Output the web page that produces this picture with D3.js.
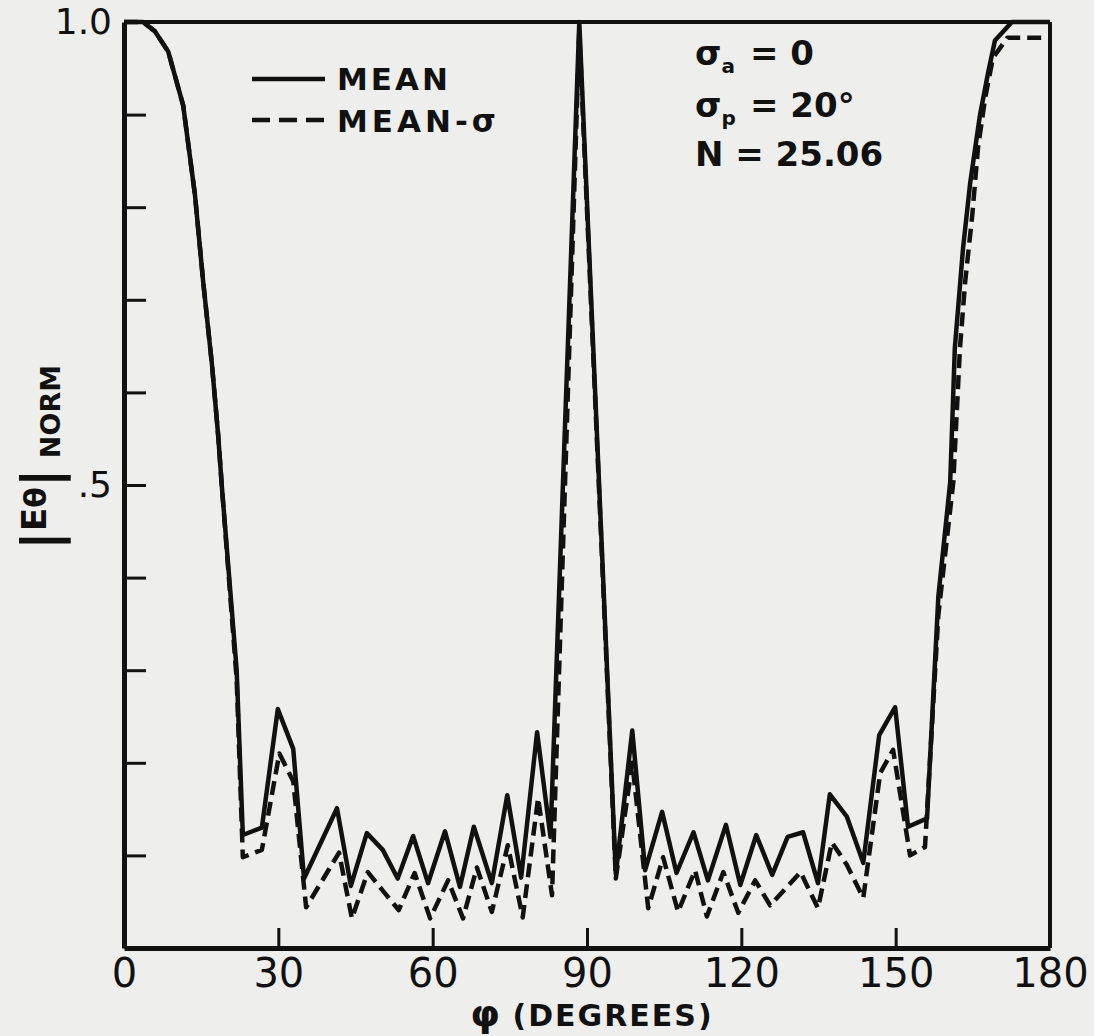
<!DOCTYPE html>
<html lang="en">
<head>
  <meta charset="UTF-8">
  <title>|E theta| norm vs phi</title>
  <script src="https://d3js.org/d3.v7.min.js"></script>
  <style>
    body { margin: 0; background: #eeeeec; }
    text { font-family: "DejaVu Sans", sans-serif; fill: #111; }
    .curve { fill: none; stroke: #111; stroke-width: 4.5px; stroke-linejoin: round; }
    .axis path, .axis line { stroke: #111; }
    .axis text { font-family: "DejaVu Sans", sans-serif; fill: #111; }
  </style>
</head>
<body>
  <div id="chart"></div>

  <script>
    var w = 1094;
    var h = 1036;

    // phi (degrees) and |E| for the mean curve
    var phiMean = [0, 3.7, 6.0, 8.6, 11.5, 13.8, 15.4, 17.1, 18.3, 19.0, 21.9, 23.1, 26.8, 29.9, 32.9, 35.0,
      41.4, 44.1, 47.2, 50.3, 53.2, 56.2, 59.1, 62.4, 65.3, 68.0, 71.5, 74.5, 77.2, 80.3, 82.9, 88.5,
      95.6, 98.8, 101.3, 104.6, 107.4, 110.7, 113.5, 117.0, 119.8, 122.9, 126.0, 129.0, 132.0, 134.9,
      137.2, 140.5, 143.7, 146.8, 149.9, 152.4, 156.1, 158.3, 160.6, 161.5, 163.1, 164.5, 166.4, 168.0,
      169.3, 172.6, 180];
    var mean = [1.0, 1.0, 0.99, 0.968, 0.91, 0.813, 0.719, 0.63, 0.554, 0.5, 0.30, 0.122, 0.13, 0.258, 0.215, 0.075,
      0.151, 0.067, 0.124, 0.106, 0.075, 0.121, 0.07, 0.126, 0.066, 0.131, 0.07, 0.165, 0.076, 0.233, 0.12, 1.0,
      0.08, 0.235, 0.084, 0.147, 0.081, 0.125, 0.073, 0.133, 0.068, 0.122, 0.079, 0.12, 0.125, 0.07,
      0.166, 0.142, 0.092, 0.23, 0.26, 0.131, 0.14, 0.38, 0.503, 0.648, 0.756, 0.827, 0.9, 0.946,
      0.98, 1.0, 1.0];

    // phi (degrees) and |E| for the mean - sigma curve
    var phiSigma = [0, 3.7, 6.0, 8.6, 11.5, 13.8, 15.4, 17.1, 18.3, 19.0, 21.9, 23.1, 26.8, 30.2, 32.9, 35.4,
      41.8, 44.3, 47.4, 50.3, 53.4, 56.5, 59.5, 63.0, 65.9, 68.6, 71.5, 74.6, 77.5, 80.5, 83.2, 88.5,
      95.6, 98.8, 101.9, 104.8, 107.7, 111.0, 113.3, 116.5, 119.4, 122.7, 125.6, 128.9, 131.5, 134.9,
      137.6, 140.5, 143.7, 147.0, 149.5, 152.8, 155.7, 158.3, 161.2, 162.5, 163.5, 164.9, 166.0, 167.4,
      168.9, 171.7, 180];
    var meanSigma = [1.0, 1.0, 0.99, 0.968, 0.91, 0.813, 0.719, 0.63, 0.554, 0.5, 0.29, 0.098, 0.106, 0.21, 0.18, 0.044,
      0.103, 0.032, 0.082, 0.062, 0.041, 0.081, 0.032, 0.073, 0.032, 0.087, 0.039, 0.111, 0.033, 0.162, 0.057, 0.99,
      0.075, 0.2, 0.043, 0.098, 0.039, 0.084, 0.034, 0.082, 0.038, 0.073, 0.046, 0.066, 0.082, 0.043,
      0.114, 0.09, 0.054, 0.189, 0.214, 0.1, 0.109, 0.36, 0.503, 0.648, 0.719, 0.792, 0.864, 0.918,
      0.961, 0.983, 0.983];

    var xTicks = [0, 30, 60, 90, 120, 150, 180];
    var yTicks = [0.1, 0.2, 0.3, 0.4, 0.5, 0.6, 0.7, 0.8, 0.9, 1.0];
    var yLabels = { "0.5": ".5", "1": "1.0" };

    var svg = d3.select("#chart").append("svg")
      .attr("width", w)
      .attr("height", h);

    svg.append("rect")
      .attr("width", w)
      .attr("height", h)
      .attr("fill", "#eeeeec");

    var x = d3.scaleLinear().domain([0, 180]).range([124, 1050]);
    var y = d3.scaleLinear().domain([0, 1]).range([948, 22]);

    // frame top and right
    svg.append("line")
      .attr("x1", x(0)).attr("x2", x(180))
      .attr("y1", y(1)).attr("y2", y(1))
      .attr("stroke", "#111").attr("stroke-width", 4);
    svg.append("line")
      .attr("x1", x(180)).attr("x2", x(180))
      .attr("y1", y(1)).attr("y2", y(0))
      .attr("stroke", "#111").attr("stroke-width", 4);

    // axes, ticks point inward
    var xAxis = d3.axisBottom(x)
      .tickValues(xTicks)
      .tickSizeInner(-20)
      .tickSizeOuter(0)
      .tickPadding(6)
      .tickFormat(d3.format("d"));

    var gx = svg.append("g")
      .attr("class", "axis")
      .attr("transform", "translate(0," + y(0) + ")")
      .call(xAxis);
    gx.select(".domain").attr("stroke-width", 5);
    gx.selectAll("line").attr("stroke-width", 3);
    gx.selectAll("text").attr("font-size", 40).attr("dy", "0.82em");

    var yAxis = d3.axisLeft(y)
      .tickValues(yTicks)
      .tickSizeInner(-22)
      .tickSizeOuter(0)
      .tickPadding(12)
      .tickFormat(function(d) { return yLabels[String(d)] || ""; });

    var gy = svg.append("g")
      .attr("class", "axis")
      .attr("transform", "translate(" + x(0) + ",0)")
      .call(yAxis);
    gy.select(".domain").attr("stroke-width", 5);
    gy.selectAll("line").attr("stroke-width", 3);
    gy.selectAll("text").attr("font-size", 36);

    // curves
    var line = d3.line()
      .x(function(d) { return x(d[0]); })
      .y(function(d) { return y(d[1]); });

    svg.append("path")
      .attr("class", "curve")
      .attr("d", line(d3.zip(phiSigma, meanSigma)))
      .attr("stroke-dasharray", "14,7");

    svg.append("path")
      .attr("class", "curve")
      .attr("d", line(d3.zip(phiMean, mean)));

    // legend
    var legend = svg.append("g").attr("transform", "translate(252,0)");
    legend.append("line")
      .attr("x1", 0).attr("x2", 73).attr("y1", 79).attr("y2", 79)
      .attr("stroke", "#111").attr("stroke-width", 4.5);
    legend.append("text")
      .attr("x", 85).attr("y", 90)
      .attr("font-size", 31).attr("font-weight", "bold")
      .attr("letter-spacing", 3)
      .text("MEAN");
    legend.append("line")
      .attr("x1", 0).attr("x2", 73).attr("y1", 120).attr("y2", 120)
      .attr("stroke", "#111").attr("stroke-width", 4.5)
      .attr("stroke-dasharray", "18,9");
    legend.append("text")
      .attr("x", 85).attr("y", 132)
      .attr("font-size", 31).attr("font-weight", "bold")
      .attr("letter-spacing", 4)
      .text("MEAN-σ");

    // parameters
    var params = svg.append("g").attr("font-size", 34).attr("font-weight", "bold");
    var p1 = params.append("text").attr("x", 695).attr("y", 65);
    p1.append("tspan").text("σ");
    p1.append("tspan").attr("font-size", 20).attr("dy", 8).text("a");
    p1.append("tspan").attr("x", 750).attr("dy", -8).text("= 0");

    var p2 = params.append("text").attr("x", 695).attr("y", 117);
    p2.append("tspan").text("σ");
    p2.append("tspan").attr("font-size", 20).attr("dy", 8).text("p");
    p2.append("tspan").attr("x", 750).attr("dy", -8).text("= 20°");

    params.append("text").attr("x", 695).attr("y", 166).text("N = 25.06");

    // x axis title
    var xt = svg.append("text")
      .attr("x", 592).attr("y", 1026)
      .attr("text-anchor", "middle")
      .attr("font-weight", "bold");
    xt.append("tspan").attr("font-size", 38).text("φ");
    xt.append("tspan").attr("font-size", 30).attr("letter-spacing", 2).text(" (DEGREES)");

    // y axis title
    var yt = svg.append("text")
      .attr("transform", "translate(46,550) rotate(-90)")
      .attr("font-weight", "bold");
    yt.append("tspan").attr("font-size", 52).attr("dy", 12).text("|");
    yt.append("tspan").attr("font-size", 34).attr("dy", -12).text("E");
    yt.append("tspan").attr("font-size", 30).text("θ");
    yt.append("tspan").attr("font-size", 52).attr("dy", 12).text("|");
    yt.append("tspan").attr("font-size", 27).attr("dy", 2).attr("dx", 10).text("NORM");

  </script>
</body>
</html>
